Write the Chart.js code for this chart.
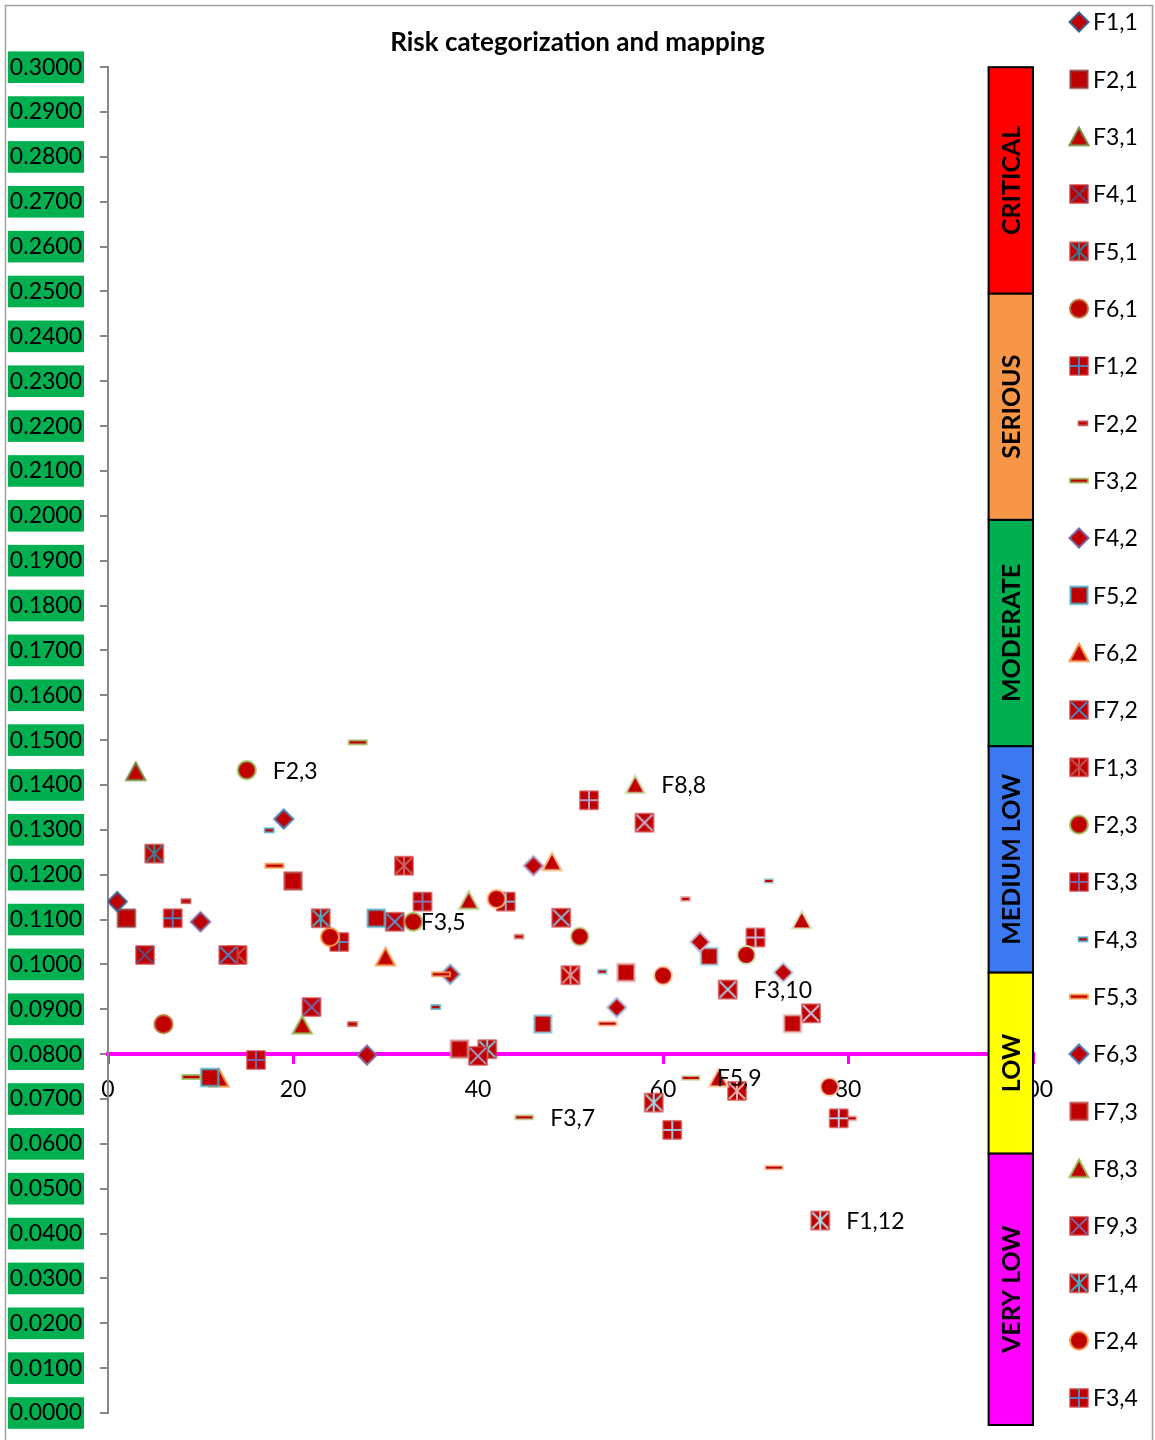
<!DOCTYPE html>
<html>
<head>
<meta charset="utf-8">
<title>Risk categorization and mapping</title>
<script src="https://cdn.jsdelivr.net/npm/chart.js@4.4.0/dist/chart.umd.min.js"></script>
<style>
  html, body { margin: 0; padding: 0; background: #ffffff; }
  #wrap { width: 1155px; height: 1440px; position: relative; }
</style>
</head>
<body>
<div id="wrap"><canvas id="riskChart" width="1155" height="1440"></canvas></div>
<script>
// ---- data ---------------------------------------------------------------
const seriesNames = [
  "F1,1","F2,1","F3,1","F4,1","F5,1","F6,1",
  "F1,2","F2,2","F3,2","F4,2","F5,2","F6,2","F7,2",
  "F1,3","F2,3","F3,3","F4,3","F5,3","F6,3","F7,3","F8,3","F9,3",
  "F1,4","F2,4","F3,4","F4,4","F5,4","F6,4",
  "F1,5","F2,5","F3,5","F4,5","F5,5","F6,5","F7,5",
  "F1,6","F2,6","F3,6","F4,6","F5,6","F6,6","F7,6",
  "F1,7","F2,7","F3,7","F4,7","F5,7","F6,7","F7,7",
  "F1,8","F2,8","F3,8","F4,8","F5,8","F6,8","F7,8","F8,8","F9,8",
  "F1,9","F2,9","F3,9","F4,9","F5,9","F6,9",
  "F1,10","F2,10","F3,10","F4,10","F5,10","F6,10",
  "F1,11","F2,11","F3,11","F4,11","F5,11","F6,11",
  "F1,12","F2,12","F3,12","F4,12"
];
const xValues = [
  1,2,3,4,5,6,7,8,9,10,11,12,13,14,15,16,17,18,19,20,
  21,22,23,24,25,26,27,28,29,30,31,32,33,34,35,36,37,38,39,40,
  41,42,43,44,45,46,47,48,49,50,51,52,53,54,55,56,57,58,59,60,
  61,62,63,64,65,66,67,68,69,70,71,72,73,74,75,76,77,78,79,80
];
const yValues = [
  0.1140,0.1103,0.1430,0.1021,0.1247,0.0867,0.1103,0.1141,0.0749,0.1095,
  0.0748,0.0747,0.1021,0.1021,0.1433,0.0787,0.1299,0.1220,0.1324,0.1186,
  0.0865,0.0905,0.1103,0.1061,0.1050,0.0867,0.1495,0.0798,0.1103,0.1017,
  0.1095,0.1220,0.1095,0.1140,0.0905,0.0978,0.0978,0.0811,0.1143,0.0796,
  0.0811,0.1146,0.1140,0.1062,0.0659,0.1220,0.0867,0.1229,0.1104,0.0976,
  0.1062,0.1366,0.0984,0.0868,0.0904,0.0982,0.1401,0.1316,0.0692,0.0975,
  0.0631,0.1146,0.0747,0.1050,0.1018,0.0747,0.0944,0.0718,0.1021,0.1060,
  0.1186,0.0547,0.0982,0.0868,0.1099,0.0891,0.0429,0.0727,0.0657,0.0657
];
const labeledSeries = ["F2,3","F3,5","F3,7","F8,8","F5,9","F3,10","F1,12"];

const xTicks = [0, 20, 40, 60, 80, 100];
const yTicks = [
  0.00,0.01,0.02,0.03,0.04,0.05,0.06,0.07,0.08,0.09,0.10,
  0.11,0.12,0.13,0.14,0.15,0.16,0.17,0.18,0.19,0.20,
  0.21,0.22,0.23,0.24,0.25,0.26,0.27,0.28,0.29,0.30
];
const thresholdValue = 0.08;   // horizontal axis crosses here

const bandNames = ["VERY LOW", "LOW", "MEDIUM LOW", "MODERATE", "SERIOUS", "CRITICAL"];
const bandFrom  = [0.00, 0.06, 0.10, 0.15, 0.20, 0.25];
const bandTo    = [0.06, 0.10, 0.15, 0.20, 0.25, 0.30];
const bandAxisFloor = 0.00265;  // the band column sits on its own, slightly shifted scale

const legendCount = 25;

// ---- styles -------------------------------------------------------------
const bandColors = ["#FF00FF", "#FFFF00", "#3C78F0", "#00B050", "#F79646", "#FF0000"];
const markerFill = "#C00000";
const accents = ["#4F81BD", "#C0504D", "#9BBB59", "#8064A2", "#4BACC6", "#F79646"];
const groupShade = [-0.25, 0, 0, 0, 0.05, 0.1, 0.3, 0.35, 0.4, 0.5, 0.5, 0.55, 0.6, 0.6];
const shapeCycle = ["diamond", "square", "triangle", "x", "star", "circle", "plus", "dashShort", "dashLong"];
const FONT = "Lato, 'Open Sans', 'Liberation Sans', sans-serif";

function shade(hex, f) {
  const n = parseInt(hex.slice(1), 16);
  let r = (n >> 16) & 255, g = (n >> 8) & 255, b = n & 255;
  if (f < 0) { r *= (1 + f); g *= (1 + f); b *= (1 + f); }
  else { r += (255 - r) * f; g += (255 - g) * f; b += (255 - b) * f; }
  return "rgb(" + Math.round(r) + "," + Math.round(g) + "," + Math.round(b) + ")";
}

function makeMarker(shape, color) {
  const c = document.createElement("canvas");
  const S = 24, m = S / 2;
  c.width = S; c.height = S;
  const g = c.getContext("2d");
  g.fillStyle = markerFill;
  g.strokeStyle = color;
  g.lineWidth = 2;
  g.lineJoin = "miter";
  const boxFill = () => {
    g.fillRect(m - 9.5, m - 9.5, 19, 19);
    g.save(); g.strokeStyle = "rgba(230,120,120,0.6)"; g.lineWidth = 1;
    g.strokeRect(m - 9, m - 9, 18, 18); g.restore();
  };
  const line = (x1, y1, x2, y2) => { g.beginPath(); g.moveTo(x1, y1); g.lineTo(x2, y2); g.stroke(); };
  switch (shape) {
    case "diamond":
      g.beginPath(); g.moveTo(m, m - 9.5); g.lineTo(m + 9.5, m); g.lineTo(m, m + 9.5); g.lineTo(m - 9.5, m); g.closePath();
      g.fill(); g.stroke(); break;
    case "square":
      g.fillRect(m - 8.5, m - 8.5, 17, 17); g.strokeRect(m - 8.5, m - 8.5, 17, 17); break;
    case "triangle":
      g.beginPath(); g.moveTo(m, m - 9); g.lineTo(m + 9.5, m + 8.5); g.lineTo(m - 9.5, m + 8.5); g.closePath();
      g.fill(); g.stroke(); break;
    case "x":
      boxFill(); line(m - 8, m - 8, m + 8, m + 8); line(m + 8, m - 8, m - 8, m + 8); break;
    case "star":
      boxFill(); line(m - 8, m - 8, m + 8, m + 8); line(m + 8, m - 8, m - 8, m + 8); line(m, m - 9, m, m + 9); break;
    case "circle":
      g.beginPath(); g.arc(m, m, 9, 0, Math.PI * 2); g.fill(); g.stroke(); break;
    case "plus":
      boxFill(); line(m - 9, m, m + 9, m); line(m, m - 9, m, m + 9); break;
    case "dashShort":
      g.lineWidth = 1.6;
      g.fillRect(m - 0.5, m - 2, 9, 4); g.strokeRect(m - 0.5, m - 2, 9, 4); break;
    case "dashLong":
      g.lineWidth = 1.6;
      g.fillRect(m - 9, m - 2, 18, 4); g.strokeRect(m - 9, m - 2, 18, 4); break;
  }
  return c;
}

const markers = seriesNames.map((name, i) =>
  makeMarker(shapeCycle[i % shapeCycle.length], shade(accents[i % accents.length], groupShade[Math.floor(i / 6)]))
);

const datasets = seriesNames.map((name, i) => ({
  label: name,
  data: [{ x: xValues[i], y: yValues[i] }],
  pointStyle: markers[i],
  pointRadius: 10,
  pointHoverRadius: 10,
  showLine: false
}));

// ---- plugins ------------------------------------------------------------
const framePlugin = {
  id: "frame",
  beforeDraw(chart) {
    const ctx = chart.ctx;
    ctx.save();
    ctx.fillStyle = "#ffffff";
    ctx.fillRect(0, 0, chart.width, chart.height);
    ctx.strokeStyle = "#A0A0A0";
    ctx.lineWidth = 1.5;
    ctx.strokeRect(5.5, 5.5, chart.width - 8, chart.height + 10);
    ctx.restore();
  }
};

const pointLabelPlugin = {
  id: "pointLabels",
  afterDatasetsDraw(chart) {
    const ctx = chart.ctx;
    ctx.save();
    ctx.font = "23px " + FONT;
    ctx.fillStyle = "#000000";
    ctx.textAlign = "left";
    ctx.textBaseline = "middle";
    chart.data.datasets.forEach((ds, i) => {
      if (!labeledSeries.includes(ds.label)) return;
      const el = chart.getDatasetMeta(i).data[0];
      ctx.fillText(ds.label, el.x + 26, el.y + 1);
    });
    ctx.restore();
  }
};

const bandPlugin = {
  id: "riskBands",
  afterDraw(chart) {
    const ctx = chart.ctx;
    const xs = chart.scales.x, ys = chart.scales.yBand;
    const left = xs.getPixelForValue(95.2), right = xs.getPixelForValue(100);
    ctx.save();
    bandNames.forEach((name, i) => {
      const top = ys.getPixelForValue(bandTo[i]);
      const bottom = ys.getPixelForValue(bandFrom[i]);
      ctx.fillStyle = bandColors[i];
      ctx.fillRect(left, top, right - left, bottom - top);
      ctx.strokeStyle = "#000000";
      ctx.lineWidth = 2;
      ctx.strokeRect(left, top, right - left, bottom - top);
      ctx.save();
      ctx.translate((left + right) / 2 + 1, (top + bottom) / 2);
      ctx.rotate(-Math.PI / 2);
      ctx.font = "bold 25px " + FONT;
      ctx.fillStyle = "#000000";
      ctx.textAlign = "center";
      ctx.textBaseline = "middle";
      ctx.fillText(name, 0, 0);
      ctx.restore();
    });
    ctx.restore();
  }
};

const sideLegendPlugin = {
  id: "sideLegend",
  afterDraw(chart) {
    const ctx = chart.ctx;
    ctx.save();
    ctx.font = "23px " + FONT;
    ctx.fillStyle = "#000000";
    ctx.textAlign = "left";
    ctx.textBaseline = "middle";
    for (let i = 0; i < legendCount; i++) {
      const ds = chart.data.datasets[i];
      const cy = 22 + i * 57.33;
      const img = ds.pointStyle;
      ctx.drawImage(img, 1079 - img.width / 2, cy - img.height / 2);
      ctx.fillText(ds.label, 1093, cy + 1);
    }
    ctx.restore();
  }
};

// ---- chart --------------------------------------------------------------
new Chart(document.getElementById("riskChart"), {
  type: "scatter",
  data: { datasets },
  plugins: [framePlugin, pointLabelPlugin, bandPlugin, sideLegendPlugin],
  options: {
    responsive: false,
    animation: false,
    devicePixelRatio: 1,
    layout: { padding: { left: 0, right: 0, top: 0, bottom: 27 } },
    plugins: {
      legend: { display: false },
      tooltip: { enabled: false },
      title: {
        display: true,
        text: "Risk categorization and mapping",
        color: "#000000",
        font: { family: FONT, size: 26, weight: "bold" },
        padding: { top: 27, bottom: 9 }
      }
    },
    scales: {
      x: {
        type: "linear",
        position: { y: thresholdValue },
        min: 0,
        max: 100,
        afterBuildTicks: (s) => { s.ticks = xTicks.map(v => ({ value: v })); },
        border: { display: true, color: "#FF00FF", width: 4 },
        grid: { drawOnChartArea: false, drawTicks: true, tickLength: 8, color: "#FF00FF", lineWidth: 3 },
        ticks: { color: "#000000", font: { family: FONT, size: 23 }, padding: 14, maxRotation: 0 }
      },
      y: {
        type: "linear",
        position: "left",
        min: 0,
        max: 0.30,
        afterBuildTicks: (s) => { s.ticks = yTicks.map(v => ({ value: v })); },
        afterFit: (s) => { s.width = 108; s.paddingTop = 0; s.paddingBottom = 0; },
        border: { display: true, color: "#878787", width: 2 },
        grid: { drawOnChartArea: false, drawTicks: true, tickLength: 8, color: "#878787", lineWidth: 2 },
        ticks: {
          callback: (v) => Number(v).toFixed(4),
          color: "#000000",
          font: { family: FONT, size: 23 },
          padding: 18,
          showLabelBackdrop: true,
          backdropColor: "#00B050",
          backdropPadding: { top: 2, bottom: 2, left: 2, right: 2 }
        }
      },
      yBand: {
        type: "linear",
        position: "right",
        min: bandAxisFloor,
        max: 0.30,
        afterFit: (s) => { s.width = 122; s.paddingTop = 0; s.paddingBottom = 0; },
        border: { display: false },
        grid: { display: false },
        ticks: { display: false }
      }
    }
  }
});
</script>
</body>
</html>
